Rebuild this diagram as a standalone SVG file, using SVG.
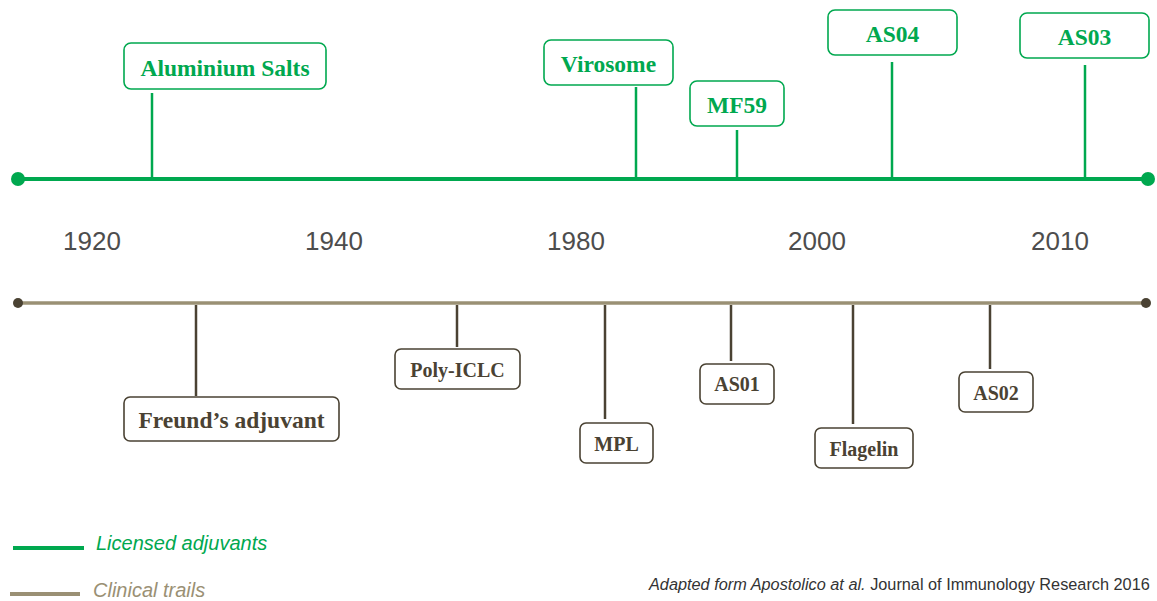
<svg xmlns="http://www.w3.org/2000/svg" width="1157" height="601" viewBox="0 0 1157 601">
<style>
.gbox{fill:#fff;stroke:#00A84F;stroke-width:1.6}
.bbox{fill:#fff;stroke:#4A4233;stroke-width:1.6}
.gt{font-family:"Liberation Serif",serif;font-weight:bold;fill:#00A84F;text-anchor:middle;font-size:23.5px}
.bt{font-family:"Liberation Serif",serif;font-weight:bold;fill:#4A4233;text-anchor:middle;font-size:20px}
.gl{stroke:#00A84F;stroke-width:2.5}
.bl{stroke:#4A4233;stroke-width:2.5}
.yr{font-family:"Liberation Sans",Arial,sans-serif;font-size:26px;fill:#4d4d4d;text-anchor:middle}
</style>
<rect width="1157" height="601" fill="#fff"/>
<g id="timelines">
<line x1="18" y1="179" x2="1148" y2="179" stroke="#00A84F" stroke-width="4"/>
<circle cx="18" cy="179" r="7" fill="#00A84F"/>
<circle cx="1148" cy="179" r="7" fill="#00A84F"/>
<line x1="18" y1="303" x2="1146" y2="303" stroke="#9A9074" stroke-width="3.5"/>
<circle cx="18" cy="303" r="5" fill="#4A4233"/>
<circle cx="1146" cy="303" r="5" fill="#4A4233"/>
</g>
<g id="connectors">
<line class="gl" x1="152" y1="93" x2="152" y2="179"/>
<line class="gl" x1="636" y1="87" x2="636" y2="179"/>
<line class="gl" x1="737" y1="130" x2="737" y2="179"/>
<line class="gl" x1="892" y1="62" x2="892" y2="179"/>
<line class="gl" x1="1085" y1="65" x2="1085" y2="179"/>
<line class="bl" x1="196" y1="305" x2="196" y2="396"/>
<line class="bl" x1="457" y1="305" x2="457" y2="347"/>
<line class="bl" x1="605" y1="305" x2="605" y2="419"/>
<line class="bl" x1="731" y1="305" x2="731" y2="361"/>
<line class="bl" x1="853" y1="305" x2="853" y2="424"/>
<line class="bl" x1="990" y1="305" x2="990" y2="369"/>
</g>
<g id="aluminium-salts"><rect class="gbox" x="124" y="43" width="202" height="46" rx="7"/><text class="gt" x="225" y="76">Aluminium Salts</text></g>
<g id="virosome"><rect class="gbox" x="544" y="40" width="129" height="45" rx="7"/><text class="gt" x="608.5" y="72">Virosome</text></g>
<g id="mf59"><rect class="gbox" x="690" y="81" width="94" height="45" rx="7"/><text class="gt" x="737" y="113">MF59</text></g>
<g id="as04"><rect class="gbox" x="828" y="10" width="129" height="45" rx="7"/><text class="gt" x="892.5" y="42">AS04</text></g>
<g id="as03"><rect class="gbox" x="1020" y="13" width="129" height="45" rx="7"/><text class="gt" x="1084.5" y="45">AS03</text></g>
<g id="freunds-adjuvant"><rect class="bbox" x="124" y="397" width="215" height="44" rx="6"/><text class="bt" x="231.5" y="428" style="font-size:23.5px">Freund’s adjuvant</text></g>
<g id="poly-iclc"><rect class="bbox" x="395" y="349" width="125" height="40" rx="6"/><text class="bt" x="457.5" y="377">Poly-ICLC</text></g>
<g id="mpl"><rect class="bbox" x="580" y="423" width="73" height="40" rx="6"/><text class="bt" x="616.5" y="451">MPL</text></g>
<g id="as01"><rect class="bbox" x="700" y="364" width="74" height="40" rx="6"/><text class="bt" x="737" y="391">AS01</text></g>
<g id="flagelin"><rect class="bbox" x="815" y="428" width="98" height="40" rx="6"/><text class="bt" x="864" y="456">Flagelin</text></g>
<g id="as02"><rect class="bbox" x="959" y="372" width="74" height="40" rx="6"/><text class="bt" x="996" y="400">AS02</text></g>
<g id="years">
<text class="yr" x="92" y="250">1920</text>
<text class="yr" x="334" y="250">1940</text>
<text class="yr" x="576" y="250">1980</text>
<text class="yr" x="817" y="250">2000</text>
<text class="yr" x="1060" y="250">2010</text>
</g>
<g id="legend">
<line x1="13" y1="548" x2="84" y2="548" stroke="#00A84F" stroke-width="4"/>
<text x="96" y="550" font-family="'Liberation Sans',Arial,sans-serif" font-style="italic" font-size="20" fill="#00A84F">Licensed adjuvants</text>
<line x1="10" y1="594" x2="80" y2="594" stroke="#9A9074" stroke-width="4"/>
<text x="93" y="597" font-family="'Liberation Sans',Arial,sans-serif" font-style="italic" font-size="20" fill="#9A9074">Clinical trails</text>
<text x="649" y="590" font-family="'Liberation Sans',Arial,sans-serif" font-size="16.3" fill="#333"><tspan font-style="italic">Adapted form Apostolico at al.</tspan> Journal of Immunology Research 2016</text>
</g>
</svg>
